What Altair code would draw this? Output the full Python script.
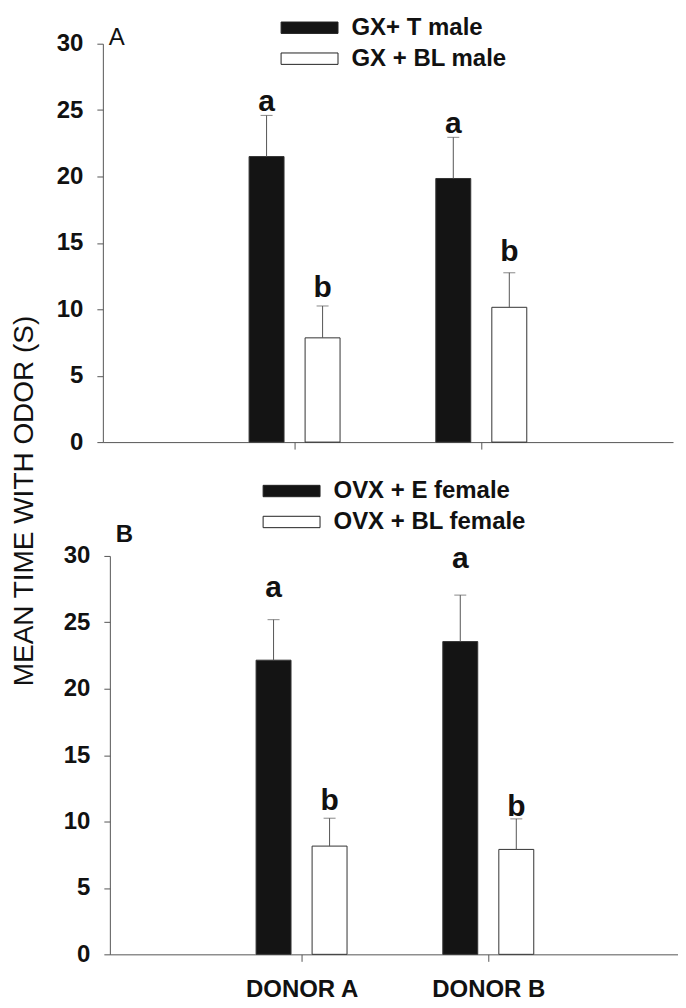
import altair as alt
import pandas as pd

# ---------------- data ----------------
donors = ["DONOR A", "DONOR B"]

groups_a = ["GX+ T male", "GX + BL male"]
mean_a = [21.5, 7.85, 19.85, 10.15]          # A-black, A-white, B-black, B-white
err_a = [24.6, 10.25, 22.95, 12.75]          # top of the SEM bars
letters_a = ["a", "b", "a", "b"]
letter_y_a = [24.95, 10.9, 23.25, 13.6]

groups_b = ["OVX + E female", "OVX + BL female"]
mean_b = [22.15, 8.15, 23.55, 7.9]
err_b = [25.2, 10.25, 27.05, 10.2]
letters_b = ["a", "b", "a", "b"]
letter_y_b = [26.9, 10.85, 29.1, 10.45]

y_ticks = [0, 5, 10, 15, 20, 25, 30]
y_title = "MEAN TIME WITH ODOR (S)"

# ---------------- layout / styling ----------------
FONT = "Liberation Sans"
AX = "#555555"
INK = "#111111"
W, H = 571, 399
GROUP_OFFSET = 0.15      # half distance between paired bars, in category units
BAR_W = 35

donor_pos = {d: i + 1 for i, d in enumerate(donors)}
label_expr = " : ".join(
    [f"datum.value == {donor_pos[d]} ? '{d}'" for d in donors] + ["''"])


def make_df(groups, means, errs, letters, ly):
    rows = []
    k = 0
    for d in donors:
        for gi, g in enumerate(groups):
            rows.append({
                "donor": d, "group": g,
                "pos": donor_pos[d] + (-GROUP_OFFSET if gi == 0 else GROUP_OFFSET),
                "mean": means[k], "err": errs[k],
                "letter": letters[k], "ly": ly[k],
            })
            k += 1
    return pd.DataFrame(rows)


def panel(df, groups, label, label_pos, legend_pos, xlabels, shift, with_title):
    x = alt.X("pos:Q", title=None,
              scale=alt.Scale(domain=[0, len(donors) + 1], nice=False, zero=False,
                              range=[shift, W + shift]),
              axis=alt.Axis(values=list(donor_pos.values()), labelExpr=label_expr,
                            labels=xlabels, grid=False, tickSize=7, tickColor=AX,
                            domainColor=AX, labelFont=FONT, labelFontSize=24,
                            labelFontWeight="bold", labelColor=INK, labelPadding=16,
                            labelAngle=0, labelFlush=False, labelOverlap=False))
    yax = alt.Axis(values=y_ticks, grid=False, tickSize=6, tickColor=AX, domainColor=AX,
                   labelFont=FONT, labelFontSize=24, labelFontWeight="bold",
                   labelColor=INK, labelPadding=14, offset=-shift)
    y = alt.Y("mean:Q", scale=alt.Scale(domain=[0, 30], nice=False), title=None, axis=yax)

    base = alt.Chart(df)
    bars = base.mark_bar(width=BAR_W, stroke="#333333", strokeWidth=1).encode(
        x=x, y=y,
        color=alt.Color("group:N", sort=groups,
                        scale=alt.Scale(domain=groups, range=["#141414", "#ffffff"]),
                        legend=alt.Legend(title=None, orient="none",
                                          legendX=legend_pos[0], legendY=legend_pos[1],
                                          padding=0, symbolType="M-5,-1H5V1H-5Z",
                                          symbolSize=130, symbolStrokeColor="#222222",
                                          symbolStrokeWidth=1, labelFont=FONT,
                                          labelFontSize=24, labelFontWeight="bold",
                                          labelColor=INK, labelOffset=30, rowPadding=7,
                                          labelLimit=400)),
    )
    rules = base.mark_rule(color=AX, strokeWidth=1).encode(
        x=x, y=alt.Y("mean:Q"), y2="err:Q")
    caps = base.mark_tick(color=AX, thickness=1, size=12, orient="horizontal").encode(
        x=x, y=alt.Y("err:Q"))
    letters = base.mark_text(font=FONT, fontSize=30, fontWeight="bold", color=INK,
                             baseline="alphabetic").encode(
        x=x, y=alt.Y("ly:Q"), text="letter:N")
    plab = alt.Chart(pd.DataFrame({"t": [label]})).mark_text(
        font=FONT, fontSize=24, fontWeight="bold" if label == "B" else "normal",
        color=INK, align="left", baseline="middle").encode(
        text="t:N", x=alt.value(label_pos[0]), y=alt.value(label_pos[1]))
    layers = [bars, rules, caps, letters, plab]
    if with_title:
        layers.append(alt.Chart(pd.DataFrame({"t": [y_title]})).mark_text(
            font=FONT, fontSize=28, color=INK, angle=270, align="center",
            baseline="middle").encode(text="t:N", x=alt.value(-78), y=alt.value(458)))
    return alt.layer(*layers).properties(width=W, height=H)


pa = panel(make_df(groups_a, mean_a, err_a, letters_a, letter_y_a), groups_a,
           "A", (6, -6), (195, -28), False, 0, True)
pb = panel(make_df(groups_b, mean_b, err_b, letters_b, letter_y_b), groups_b,
           "B", (13, -21), (177, -77), True, 7, False)

chart = alt.vconcat(pa, pb, spacing=114, bounds="flush").resolve_scale(
    color="independent", x="independent", y="independent"
).configure_view(stroke=None).properties(
    padding={"left": 3, "top": 7, "right": 5, "bottom": 5}
)

chart.save("out.html", embed_options={"renderer": "svg", "actions": False})
